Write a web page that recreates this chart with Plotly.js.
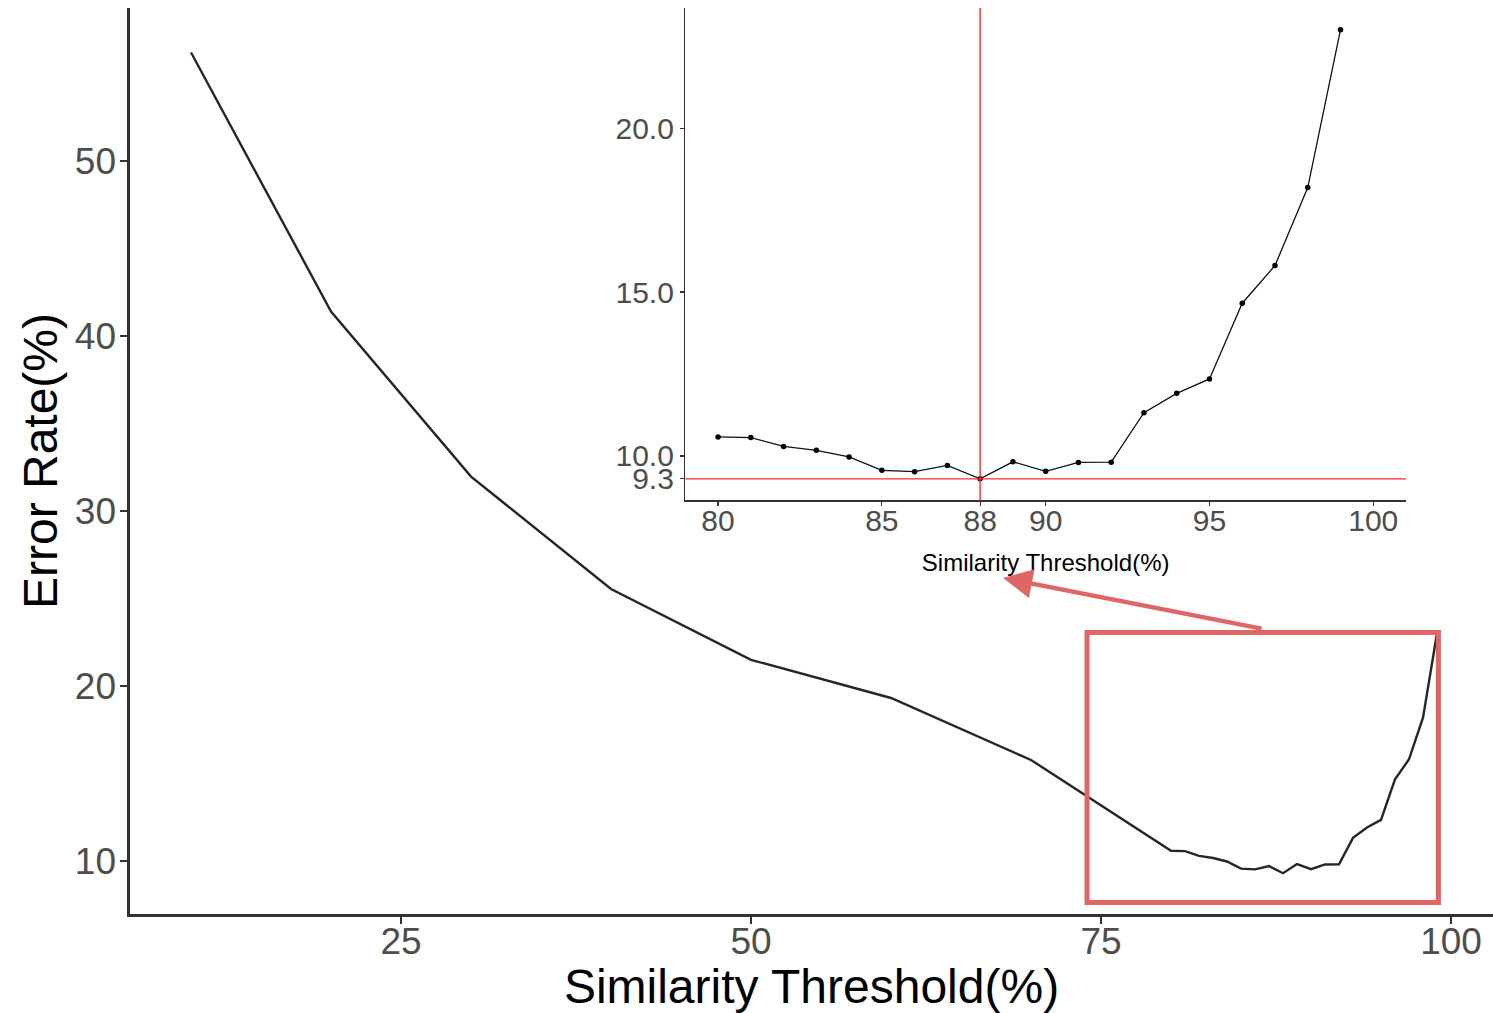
<!DOCTYPE html>
<html>
<head>
<meta charset="utf-8">
<script src="https://cdn.plot.ly/plotly-3.0.1.min.js"></script>
<style>html,body{margin:0;padding:0;background:#fff;}#chart{width:1493px;height:1013px;}</style>
</head>
<body>
<div id="chart"></div>
<script>
// Main curve: similarity threshold (%) vs error rate (%)
var mainX = [10, 20, 30, 40, 50, 60, 70, 80, 81, 82, 83, 84, 85, 86, 87, 88, 89, 90, 91, 92, 93, 94, 95, 96, 97, 98, 99];
var mainY = [56.19, 41.39, 31.96, 25.54, 21.49, 19.31, 15.77, 10.58, 10.56, 10.29, 10.17, 9.97, 9.56, 9.52, 9.71, 9.3, 9.82, 9.53, 9.80, 9.81, 11.32, 11.91, 12.35, 14.66, 15.81, 18.19, 23.01];

// Inset (zoom on 80-99 %)
var insetX = [80, 81, 82, 83, 84, 85, 86, 87, 88, 89, 90, 91, 92, 93, 94, 95, 96, 97, 98, 99];
var insetY = [10.58, 10.56, 10.29, 10.17, 9.97, 9.56, 9.52, 9.71, 9.3, 9.82, 9.53, 9.80, 9.81, 11.32, 11.91, 12.35, 14.66, 15.81, 18.19, 23.01];

var bestThreshold = 88;
var minError = 9.3;

var mainXTicks = [25, 50, 75, 100];
var mainYTicks = [10, 20, 30, 40, 50];
var insetXTicks = [80, 85, 88, 90, 95, 100];
var insetYTicks = [9.3, 10, 15, 20];
var insetYTickText = ['9.3', '10.0', '15.0', '20.0'];

var FONT = 'Liberation Sans, Arial, Helvetica, sans-serif';
var TICKC = '#4D4D4D';
var RED = '#E06666';

var traces = [
  {x: mainX, y: mainY, type: 'scatter', mode: 'lines', xaxis: 'x', yaxis: 'y',
   line: {color: '#262626', width: 2.4}, hoverinfo: 'x+y'},
  {x: insetX, y: insetY, type: 'scatter', mode: 'lines+markers', xaxis: 'x2', yaxis: 'y2',
   line: {color: '#111111', width: 1.3}, marker: {color: '#000000', size: 5.5}, hoverinfo: 'x+y'}
];

var layout = {
  width: 1493, height: 1013,
  margin: {l: 130, r: 0, t: 8, b: 99},
  paper_bgcolor: '#ffffff', plot_bgcolor: 'rgba(0,0,0,0)',
  showlegend: false,
  font: {family: FONT, color: '#000'},
  xaxis: {
    range: [5.64, 103.0], domain: [0, 1],
    tickvals: mainXTicks, ticktext: mainXTicks.map(String),
    showgrid: false, zeroline: false,
    showline: true, linecolor: '#333333', linewidth: 2.6,
    ticks: 'outside', ticklen: 7, tickwidth: 2.4, tickcolor: '#333333',
    tickfont: {family: FONT, size: 37, color: TICKC},
    ticklabelstandoff: -14,
    title: {text: 'Similarity Threshold(%)', font: {family: FONT, size: 48, color: '#000'}, standoff: 4},
    automargin: false
  },
  yaxis: {
    range: [6.97, 58.73], domain: [0, 1],
    tickvals: mainYTicks, ticktext: mainYTicks.map(String),
    showgrid: false, zeroline: false,
    showline: true, linecolor: '#333333', linewidth: 2.6,
    ticks: 'outside', ticklen: 7, tickwidth: 2.4, tickcolor: '#333333',
    tickfont: {family: FONT, size: 37, color: TICKC},
    ticklabelstandoff: -3,
    title: {text: 'Error Rate(%)', font: {family: FONT, size: 48, color: '#000'}, standoff: 2},
    automargin: false
  },
  xaxis2: {
    anchor: 'y2', domain: [0.4074, 0.9362], range: [79, 101],
    tickvals: insetXTicks, ticktext: insetXTicks.map(String),
    showgrid: false, zeroline: false,
    showline: true, linecolor: '#333333', linewidth: 1.4,
    ticks: 'outside', ticklen: 4, tickwidth: 1.2, tickcolor: '#333333',
    tickfont: {family: FONT, size: 30, color: TICKC},
    ticklabelstandoff: -11,
    title: {text: 'Similarity Threshold(%)', font: {family: FONT, size: 24, color: '#000'}, standoff: 18},
    automargin: false
  },
  yaxis2: {
    anchor: 'x2', domain: [0.4568, 1.0], range: [8.65, 23.67],
    tickvals: insetYTicks, ticktext: insetYTickText,
    showgrid: false, zeroline: false,
    showline: true, linecolor: '#333333', linewidth: 1.4,
    ticks: 'outside', ticklen: 4, tickwidth: 1.2, tickcolor: '#333333',
    tickfont: {family: FONT, size: 30, color: TICKC},
    automargin: false
  },
  shapes: [
    {type: 'line', xref: 'x2', yref: 'y2 domain', x0: bestThreshold, x1: bestThreshold, y0: 0, y1: 1,
     line: {color: '#FF2A2A', width: 1.4}, layer: 'above'},
    {type: 'line', xref: 'x2 domain', yref: 'y2', x0: 0, x1: 1, y0: minError, y1: minError,
     line: {color: '#FF2A2A', width: 1.4}, layer: 'above'},
    {type: 'rect', xref: 'x', yref: 'y', x0: 74.0, x1: 99.1, y0: 7.62, y1: 23.05,
     line: {color: RED, width: 5}, fillcolor: 'rgba(0,0,0,0)', layer: 'above'}
  ],
  annotations: [
    {xref: 'x', yref: 'y', x: 68.0, y: 26.17, ax: 260, ay: 51, axref: 'pixel', ayref: 'pixel',
     text: '', showarrow: true, arrowhead: 2, arrowsize: 1.3, arrowwidth: 4.5, arrowcolor: RED}
  ]
};

Plotly.newPlot('chart', traces, layout, {staticPlot: true, displayModeBar: false});
</script>
</body>
</html>
